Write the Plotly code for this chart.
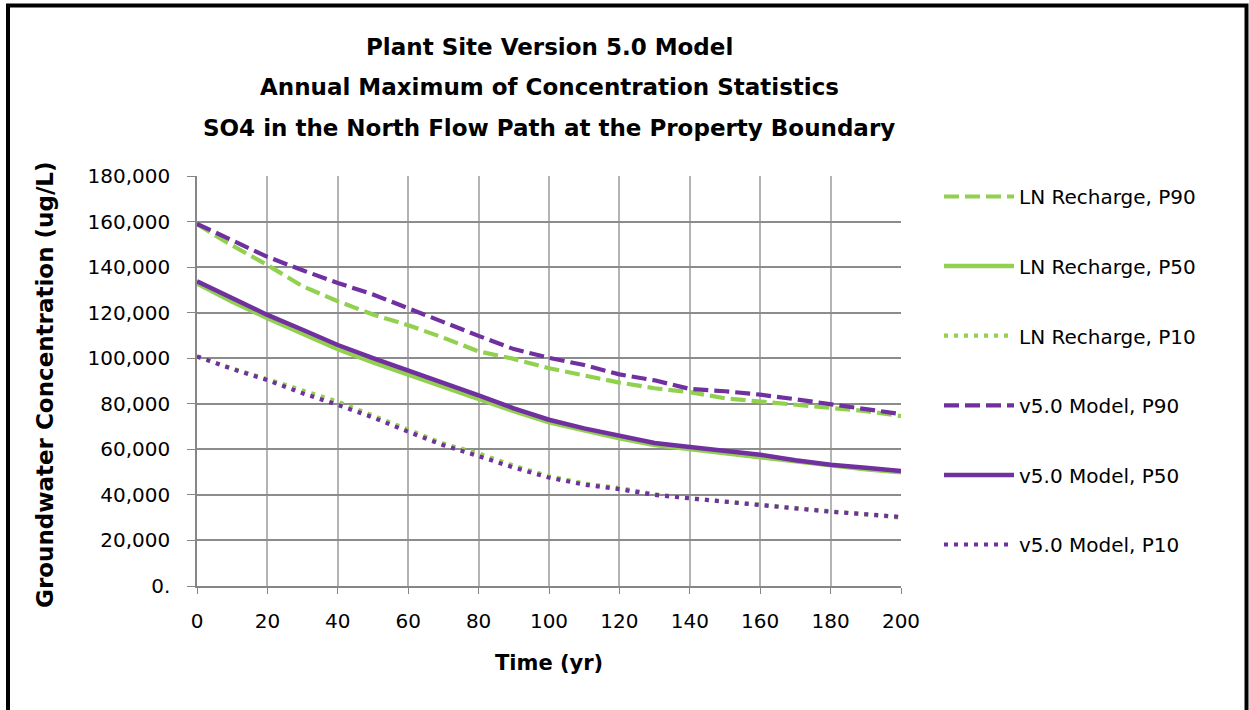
import plotly.graph_objects as go

# Simulation years
years = [0, 10, 20, 30, 40, 50, 60, 70, 80, 90, 100,
         110, 120, 130, 140, 150, 160, 170, 180, 190, 200]

# LN Recharge statistics (ug/L)
ln_p90 = [158800, 149500, 140900, 131600, 125000, 119200, 114500, 109000, 103000, 99700, 95600,
          92600, 89300, 86800, 85100, 82400, 80900, 79500, 78000, 76800, 74600]
ln_p50 = [132800, 124800, 117600, 110800, 104000, 98200, 92800, 87600, 82200, 76800, 71900,
          68200, 64800, 61900, 60100, 58300, 56600, 54500, 52600, 51200, 49900]
ln_p10 = [100800, 95500, 90800, 86000, 80900, 74800, 68500, 62500, 58200, 52800, 48200,
          45000, 43000, 40300, 38500, 37000, 35700, 34300, 32600, 31400, 30000]

# v5.0 Model statistics (ug/L)
v5_p90 = [159000, 151500, 144500, 138600, 133000, 128000, 121800, 115800, 109800, 104000, 100200,
          97000, 92900, 90300, 86500, 85500, 84000, 82000, 79800, 77700, 75500]
v5_p50 = [133800, 126200, 119000, 112500, 105800, 100000, 94600, 89400, 83700, 78000, 73000,
          69200, 65800, 62800, 61000, 59200, 57600, 55200, 53200, 51900, 50500]
v5_p10 = [100800, 95300, 90400, 84600, 79500, 74000, 67700, 61800, 57000, 52000, 47600,
          44500, 42500, 40000, 38500, 37000, 35600, 34400, 32600, 31500, 30300]

y_ticks = [0, 20000, 40000, 60000, 80000, 100000, 120000, 140000, 160000, 180000]
y_tick_text = ["0.", "20,000", "40,000", "60,000", "80,000", "100,000",
               "120,000", "140,000", "160,000", "180,000"]
x_ticks = [0, 20, 40, 60, 80, 100, 120, 140, 160, 180, 200]

GREEN = "#92D050"
PURPLE = "#7030A0"
DASH = "15px,6px"
DOT = "4px,6px"
FONT = "DejaVu Sans"

series = [
    ("LN Recharge, P90", ln_p90, GREEN, DASH),
    ("LN Recharge, P50", ln_p50, GREEN, "solid"),
    ("LN Recharge, P10", ln_p10, GREEN, DOT),
    ("v5.0 Model, P90", v5_p90, PURPLE, DASH),
    ("v5.0 Model, P50", v5_p50, PURPLE, "solid"),
    ("v5.0 Model, P10", v5_p10, PURPLE, DOT),
]

fig = go.Figure()
for i, (name, vals, color, dash) in enumerate(series):
    fig.add_trace(go.Scatter(
        x=years, y=vals, name=name, mode="lines",
        line=dict(color=color, width=4.5 if dash == "solid" else 4.2, dash=dash),
        legendgroup=f"g{i}",
    ))

W, H = 1249, 710
L, R, T, B = 197, 348, 176, 124
pw, ph = W - L - R, H - T - B

fig.update_layout(
    width=W, height=H,
    margin=dict(l=L, r=R, t=T, b=B, pad=0),
    paper_bgcolor="white", plot_bgcolor="white",
    font=dict(family=FONT, size=20, color="black"),
    showlegend=True,
    legend=dict(
        x=(939 - L) / pw, y=(T - 177 + ph) / ph, xanchor="left", yanchor="top",
        font=dict(family=FONT, size=20, color="black"),
        itemwidth=70, traceorder="grouped", tracegroupgap=40.6,
        bgcolor="rgba(0,0,0,0)",
    ),
    xaxis=dict(
        range=[0, 200], tickvals=x_ticks, showgrid=True, gridcolor="#B4B4B4", gridwidth=1.5,
        showline=True, linecolor="#868686", linewidth=1.5, ticks="outside", ticklen=6,
        tickcolor="#868686", zeroline=False, tickfont=dict(size=20), ticklabelstandoff=10,
    ),
    yaxis=dict(
        range=[0, 180000], tickvals=y_ticks, ticktext=y_tick_text, showgrid=True,
        gridcolor="#8C8C8C", gridwidth=1.5, showline=True, linecolor="#868686", linewidth=1.5,
        ticks="outside", ticklen=8, tickcolor="#868686", zeroline=False,
        tickfont=dict(size=20), ticklabelstandoff=13,
    ),
)

def py(ypix):
    return (H - B - ypix) / ph

def px(xpix):
    return (xpix - L) / pw

titles = ["Plant Site Version 5.0 Model",
          "Annual Maximum of Concentration Statistics",
          "SO4 in the North Flow Path at the Property Boundary"]
for line, yc in zip(titles, [47, 87, 128]):
    fig.add_annotation(text=f"<b>{line}</b>", x=0.5, y=py(yc), xref="paper", yref="paper",
                       xanchor="center", yanchor="middle", showarrow=False,
                       font=dict(family=FONT, size=23, color="black"))

fig.add_annotation(text="<b>Groundwater Concentration (ug/L)</b>", x=px(45), y=py(385),
                   xref="paper", yref="paper", xanchor="center", yanchor="middle",
                   textangle=-90, showarrow=False, font=dict(family=FONT, size=23, color="black"))
fig.add_annotation(text="<b>Time (yr)</b>", x=0.5, y=py(663), xref="paper", yref="paper",
                   xanchor="center", yanchor="middle", showarrow=False,
                   font=dict(family=FONT, size=21, color="black"))

# Black frame around the chart
fig.add_shape(type="rect", xref="paper", yref="paper",
              x0=px(8), x1=px(1246.5), y0=py(730), y1=py(5.5),
              line=dict(color="black", width=4), fillcolor="rgba(0,0,0,0)", layer="above")

fig.write_html("out.html")
